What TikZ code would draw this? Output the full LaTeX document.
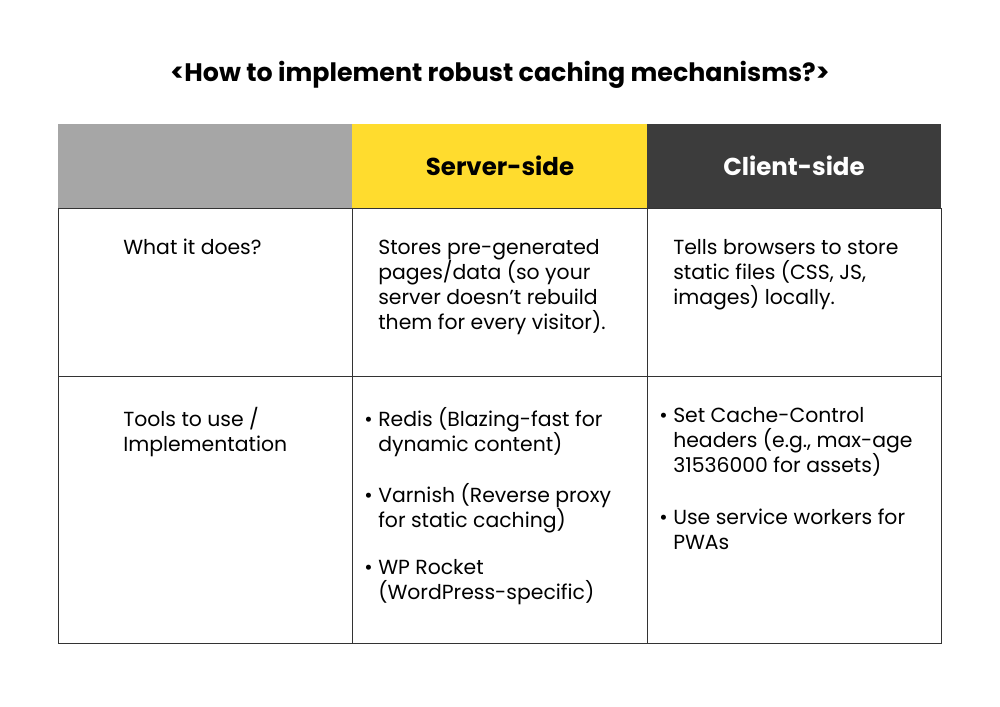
\documentclass[tikz,border=0pt]{standalone}
\usepackage{fontspec}
\setmainfont{Poppins}
\usetikzlibrary{positioning}
\definecolor{hgray}{HTML}{A6A6A6}
\definecolor{hyellow}{HTML}{FFDC2E}
\definecolor{hdark}{HTML}{3C3C3C}
\definecolor{tline}{HTML}{333333}
\newcommand{\bul}{\llap{\textbullet\hspace{4pt}}}
\begin{document}
\begin{tikzpicture}
  [x=0.025cm,y=-0.025cm,
   cell/.style={draw=tline,line width=0.6pt},
   body/.style={anchor=north west,align=left,inner sep=0pt,font=\fontsize{14.5}{17.8}\selectfont},
   head/.style={font=\fontsize{17.4}{20}\selectfont\bfseries}]
  \useasboundingbox (0,0) rectangle (1000,707);
  \node[font=\fontsize{18}{20}\selectfont\bfseries] (title) at (500,75) {<How to implement robust caching mechanisms?>};
  % header
  \fill[hgray] (58,124) rectangle (352,208);
  \fill[hyellow] (352,124) rectangle (647,208);
  \fill[hdark] (647,124) rectangle (941,208);
  \node[head] (hserver) at (500,166) {Server-side};
  \node[head,text=white] (hclient) at (794,166) {Client-side};
  % grid
  \draw[cell] (58,208) rectangle (941,643);
  \draw[cell] (58,376) -- (941,376);
  \draw[cell] (352,208) -- (352,643);
  \draw[cell] (647,208) -- (647,643);
  % row 1
  \node[body] (what) at (123,239) {What it does?};
  \node[body] (sdoes) at (378,239) {Stores pre-generated\\pages/data (so your\\server doesn’t rebuild\\them for every visitor).};
  \node[body] (cdoes) at (673,239) {Tells browsers to store\\static files (CSS, JS,\\images) locally.};
  % row 2
  \node[body] (tools) at (123,407) {Tools to use /\\Implementation};
  \node[body] (redis) at (378,407) {\bul Redis (Blazing-fast for\\dynamic content)};
  \node[body] (varnish) at (378,483) {\bul Varnish (Reverse proxy\\for static caching)};
  \node[body] (rocket) at (378,559) {\bul WP Rocket\\(WordPress-specific)};
  \node[body] (cache) at (673,407) {\bul Set Cache-Control\\headers (e.g., max-age\\31536000 for assets)};
  \node[body] (sw) at (673,509) {\bul Use service workers for\\PWAs};
\end{tikzpicture}
\end{document}
